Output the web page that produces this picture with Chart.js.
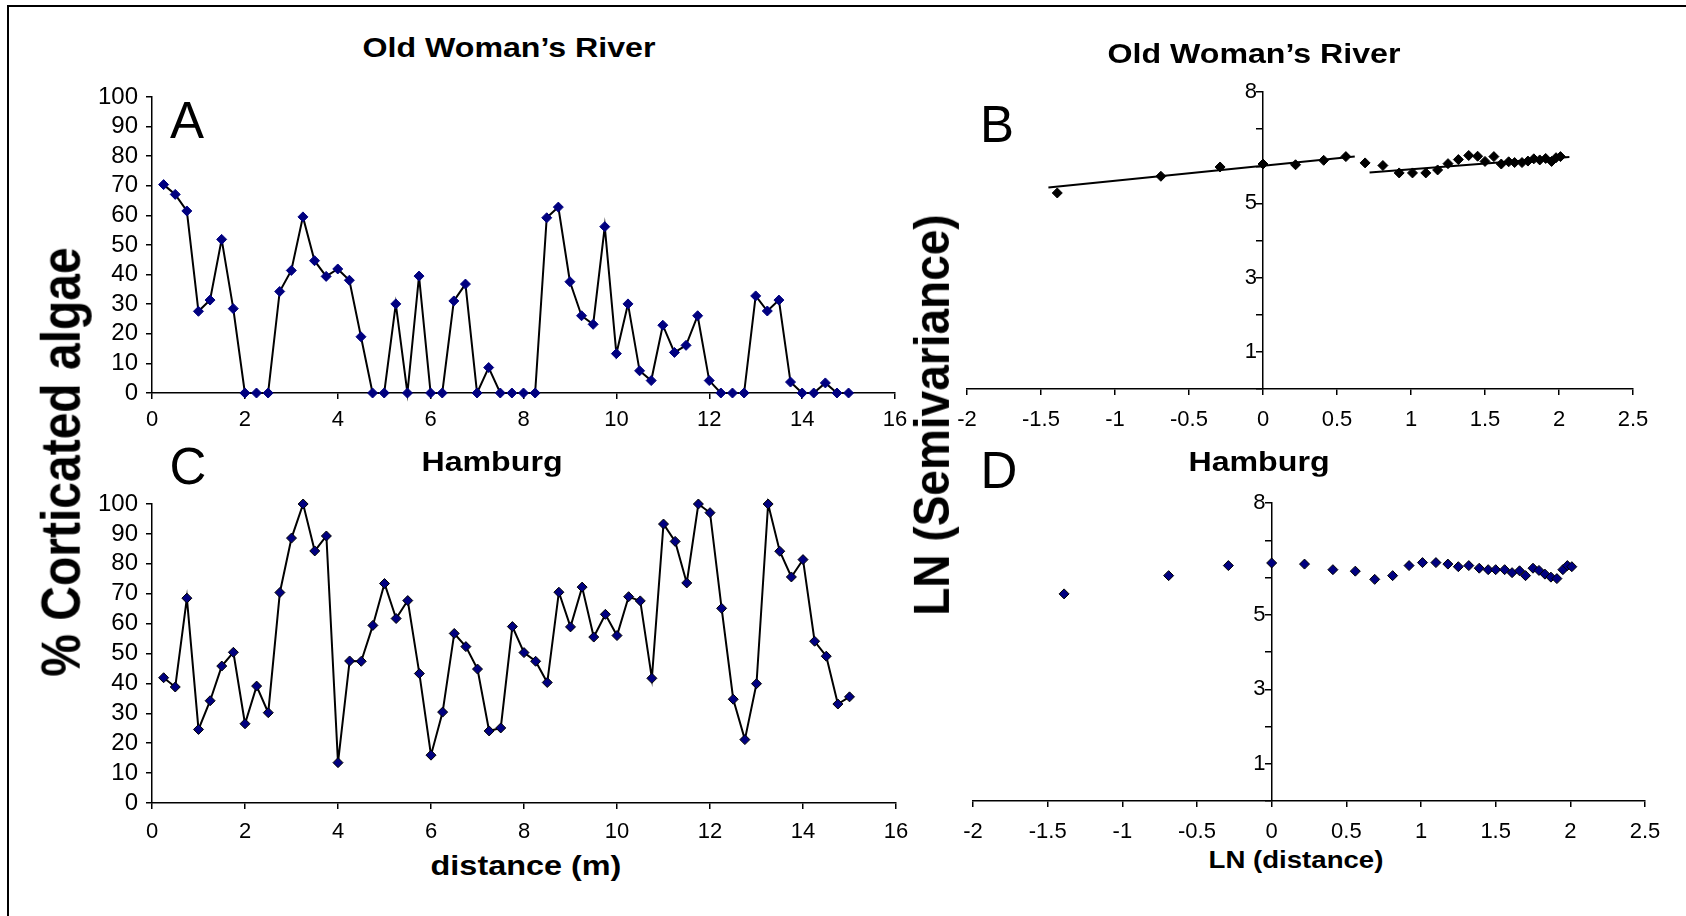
<!DOCTYPE html>
<html>
<head>
<meta charset="utf-8">
<script src="https://cdn.jsdelivr.net/npm/chart.js@4.4.0/dist/chart.umd.min.js"></script>
<style>
  html, body { margin: 0; padding: 0; background: #fff; }
  body { width: 1686px; height: 916px; position: relative; overflow: hidden; font-family: Arial, "Liberation Sans", sans-serif; }
  canvas { position: absolute; }
  .frame { position: absolute; left: 7px; top: 5px; width: 1700px; height: 1000px; border-top: 2px solid #000; border-left: 2px solid #000; }
  .t { position: absolute; white-space: nowrap; line-height: 1; color: #000; }
  .b { font-weight: bold; }
</style>
</head>
<body>
<div class="frame"></div>

<canvas id="chartA" width="853" height="371" style="left:82px;top:67px"></canvas>
<canvas id="chartC" width="854" height="374" style="left:82px;top:474px"></canvas>
<canvas id="chartB" width="746" height="372" style="left:927px;top:62px"></canvas>
<canvas id="chartD" width="752" height="373" style="left:933px;top:473px"></canvas>

<div class="t b" style="left:509px;top:48px;font-size:27px;transform:translate(-50%,-50%) scaleX(1.19)">Old Woman’s River</div>
<div class="t b" style="left:1254px;top:54px;font-size:27px;transform:translate(-50%,-50%) scaleX(1.19)">Old Woman’s River</div>
<div class="t b" style="left:492px;top:462px;font-size:27px;transform:translate(-50%,-50%) scaleX(1.19)">Hamburg</div>
<div class="t b" style="left:1259px;top:462px;font-size:27px;transform:translate(-50%,-50%) scaleX(1.19)">Hamburg</div>

<div class="t" style="left:187px;top:120px;font-size:51px;transform:translate(-50%,-50%)">A</div>
<div class="t" style="left:997px;top:124px;font-size:51px;transform:translate(-50%,-50%)">B</div>
<div class="t" style="left:188px;top:466px;font-size:51px;transform:translate(-50%,-50%)">C</div>
<div class="t" style="left:999px;top:470px;font-size:51px;transform:translate(-50%,-50%)">D</div>

<div class="t b" style="left:61px;top:462px;font-size:48px;transform:translate(-50%,-50%) rotate(-90deg) scale(1,1.16)">% Corticated algae</div>
<div class="t b" style="left:932px;top:415px;font-size:46px;transform:translate(-50%,-50%) rotate(-90deg) scale(1,1.08)">LN (Semivariance)</div>
<div class="t b" style="left:526px;top:866px;font-size:27px;transform:translate(-50%,-50%) scaleX(1.2)">distance (m)</div>
<div class="t b" style="left:1296px;top:860px;font-size:24px;transform:translate(-50%,-50%) scaleX(1.15)">LN (distance)</div>

<script>
// sampling distances along the transect (m)
var distance = [0.25, 0.5, 0.75, 1, 1.25, 1.5, 1.75, 2, 2.25, 2.5,
  2.75, 3, 3.25, 3.5, 3.75, 4, 4.25, 4.5, 4.75, 5,
  5.25, 5.5, 5.75, 6, 6.25, 6.5, 6.75, 7, 7.25, 7.5,
  7.75, 8, 8.25, 8.5, 8.75, 9, 9.25, 9.5, 9.75, 10,
  10.25, 10.5, 10.75, 11, 11.25, 11.5, 11.75, 12, 12.25, 12.5,
  12.75, 13, 13.25, 13.5, 13.75, 14, 14.25, 14.5, 14.75, 15];

// % corticated algae
var owrCover = [70.4, 67.1, 61.5, 27.6, 31.4, 51.9, 28.5, 0, 0, 0,
  34.3, 41.4, 59.5, 44.7, 39.4, 41.9, 38.1, 19.0, 0, 0,
  30.1, 0, 39.5, 0, 0, 31.1, 36.8, 0, 8.6, 0,
  0, 0, 0, 59.2, 62.8, 37.6, 26.1, 23.2, 56.2, 13.3,
  30.1, 7.5, 4.2, 22.9, 13.7, 16.1, 26.1, 4.2, 0, 0,
  0, 32.8, 27.7, 31.4, 3.7, 0, 0, 3.4, 0, 0];
var hamCover = [41.9, 38.8, 68.5, 24.6, 34.2, 45.8, 50.4, 26.5, 39.1, 30.2,
  70.4, 88.6, 100, 84.3, 89.3, 13.5, 47.5, 47.4, 59.4, 73.4,
  61.7, 67.7, 43.3, 16.0, 30.4, 56.7, 52.3, 44.8, 24.1, 25.1,
  59.0, 50.3, 47.4, 40.3, 70.5, 58.9, 72.2, 55.5, 63.1, 56.0,
  69.0, 67.6, 41.7, 93.3, 87.5, 73.6, 100, 97.1, 65.1, 34.7,
  21.2, 39.9, 100, 84.2, 75.6, 81.4, 54.1, 49.1, 33.1, 35.5];

// semivariograms, log-log
var lnDistance = [-1.39, -0.69, -0.29, 0, 0.22, 0.41, 0.56, 0.69, 0.81, 0.92,
  1.01, 1.10, 1.18, 1.25, 1.32, 1.39, 1.45, 1.50, 1.56, 1.61,
  1.66, 1.70, 1.75, 1.79, 1.83, 1.87, 1.91, 1.95, 1.98, 2.01];
var owrLnSemivar = [5.28, 5.73, 5.98, 6.06, 6.04, 6.16, 6.26, 6.09, 6.02, 5.82,
  5.82, 5.82, 5.90, 6.07, 6.18, 6.29, 6.27, 6.13, 6.26, 6.06,
  6.12, 6.10, 6.10, 6.14, 6.20, 6.17, 6.21, 6.13, 6.23, 6.26];
var hamLnSemivar = [5.56, 6.05, 6.32, 6.39, 6.36, 6.21, 6.17, 5.95, 6.05, 6.32,
  6.40, 6.40, 6.36, 6.29, 6.32, 6.25, 6.21, 6.21, 6.21, 6.13,
  6.18, 6.05, 6.25, 6.19, 6.09, 6.01, 5.97, 6.21, 6.32, 6.29];

// fitted lines on panel B
var fit1X = [-1.45, 0.62], fit1Y = [5.43, 6.26];
var fit2X = [0.72, 2.07], fit2Y = [5.83, 6.25];

var lnTickLabels = [1, 3, 5, 8];

function pts(xs, ys) {
  return xs.map(function (x, i) { return { x: x, y: ys[i] }; });
}

var fontFamily = 'Arial, "Liberation Sans", sans-serif';
var navy = '#000080';

function gridOpts() {
  return { drawOnChartArea: false, drawTicks: true, tickLength: 6, color: '#000', lineWidth: 1.5 };
}
function borderOpts() {
  return { display: true, color: '#000', width: 1.5 };
}

function baseOptions(padding, scales) {
  return {
    responsive: false,
    animation: false,
    layout: { padding: padding },
    plugins: { legend: { display: false }, tooltip: { enabled: false } },
    scales: scales
  };
}

function transectChart(id, values, ptBorder, xPad) {
  return new Chart(document.getElementById(id), {
    type: 'line',
    data: {
      datasets: [{
        data: pts(distance, values),
        borderColor: '#000',
        borderWidth: 2,
        tension: 0,
        pointStyle: 'rectRot',
        pointRadius: 5,
        pointBackgroundColor: navy,
        pointBorderColor: ptBorder,
        pointBorderWidth: 1,
        clip: false
      }]
    },
    options: baseOptions({ left: 0, right: 40, top: 30, bottom: 0 }, {
      x: {
        type: 'linear', min: 0, max: 16,
        ticks: { stepSize: 2, font: { family: fontFamily, size: 22 }, color: '#000', padding: xPad, maxRotation: 0, autoSkip: false },
        grid: gridOpts(), border: borderOpts(),
        afterFit: function (s) { s.height = 45; }
      },
      y: {
        min: 0, max: 100,
        ticks: { stepSize: 10, font: { family: fontFamily, size: 24 }, color: '#000', padding: 8, autoSkip: false },
        grid: gridOpts(), border: borderOpts(),
        afterFit: function (s) { s.width = 70; }
      }
    })
  });
}

function semivarChart(id, values, ptColor, ptBorder, extra, xPad) {
  var datasets = [{
    data: pts(lnDistance, values),
    showLine: false,
    pointStyle: 'rectRot',
    pointRadius: 5,
    pointBackgroundColor: ptColor,
    pointBorderColor: ptBorder,
    pointBorderWidth: 1,
    clip: false
  }].concat(extra);
  return new Chart(document.getElementById(id), {
    type: 'scatter',
    data: { datasets: datasets },
    options: baseOptions({ left: 40, right: 40, top: 30, bottom: 0 }, {
      x: {
        type: 'linear', min: -2, max: 2.5, position: 'bottom',
        ticks: {
          stepSize: 0.5, font: { family: fontFamily, size: 22 }, color: '#000', padding: xPad, maxRotation: 0, autoSkip: false,
          callback: function (v) { return String(Math.round(v * 10) / 10); }
        },
        grid: gridOpts(), border: borderOpts(),
        afterFit: function (s) { s.height = 45; }
      },
      y: {
        min: 0, max: 8, position: { x: 0 },
        ticks: {
          stepSize: 1, font: { family: fontFamily, size: 22 }, color: '#000', autoSkip: false,
          // labels sit right-aligned on the crossing axis, so pad them with a space
          callback: function (v) { return lnTickLabels.indexOf(v) >= 0 ? String(v) + ' ' : ''; }
        },
        grid: gridOpts(), border: borderOpts()
      }
    })
  });
}

function fitLine(xs, ys) {
  return {
    data: pts(xs, ys), showLine: true, borderColor: '#000', borderWidth: 2,
    pointRadius: 0, tension: 0, clip: false
  };
}

transectChart('chartA', owrCover, navy, 8);
transectChart('chartC', hamCover, '#000', 10);
semivarChart('chartB', owrLnSemivar, '#000', '#000', [fitLine(fit1X, fit1Y), fitLine(fit2X, fit2Y)], 12);
semivarChart('chartD', hamLnSemivar, navy, '#000', [], 12);
</script>
</body>
</html>
